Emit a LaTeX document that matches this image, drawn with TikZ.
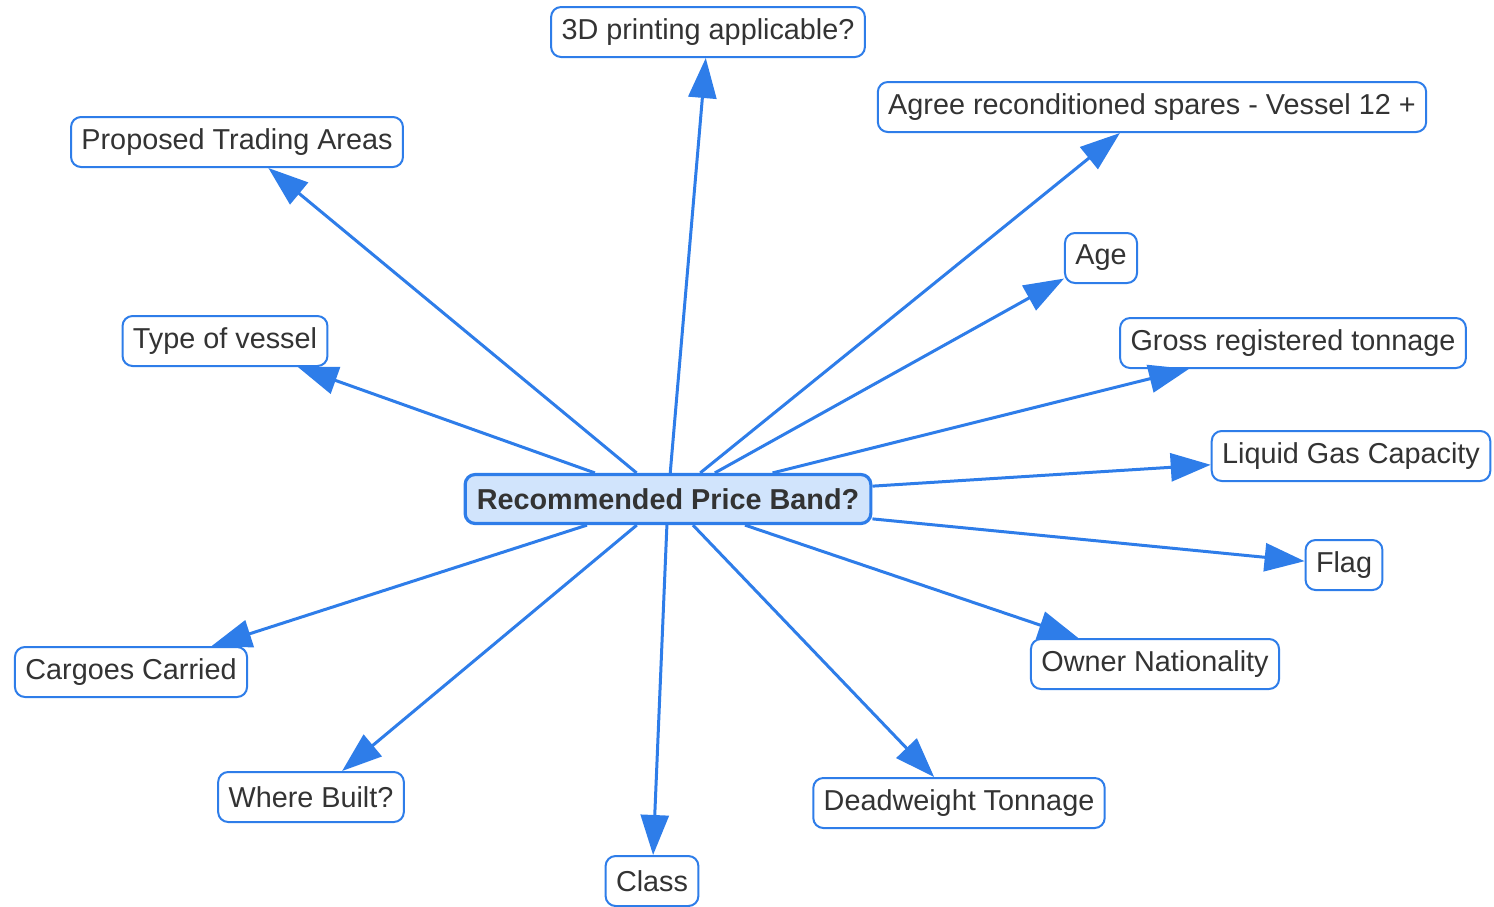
\documentclass[tikz,border=0pt]{standalone}
\usepackage{fontspec}
\setmainfont{Liberation Sans}
\usetikzlibrary{arrows.meta}

\definecolor{edgeblue}{RGB}{46,125,233}
\definecolor{hubfill}{RGB}{209,228,252}
\definecolor{labelgrey}{RGB}{51,51,51}

\begin{document}
\begin{tikzpicture}[x=0.5pt, y=-0.5pt,
	leaf/.style={draw=edgeblue, line width=1pt, fill=white, rounded corners=5pt, text=labelgrey, font=\fontsize{14.4}{17}\selectfont, minimum height=25pt, inner xsep=5.2pt},
	hub/.style={draw=edgeblue, line width=1.6pt, fill=hubfill, rounded corners=5pt, text=labelgrey, font=\fontsize{14.4}{17}\selectfont\bfseries, minimum height=24.5pt, inner xsep=5.8pt},
	link/.style={draw=edgeblue, line width=1.5pt, -{Triangle[length=20pt, width=14pt]}}]
	\useasboundingbox (0,0) rectangle (1494,906);
	\draw (668,499) node[hub](band) {Recommended Price Band?};
	\draw (708,32) node[leaf](print) {3D printing applicable?};
	\draw (1152,107) node[leaf](spares) {Agree reconditioned spares - Vessel 12 +};
	\draw (237,142) node[leaf](areas) {Proposed Trading Areas};
	\draw (1101,258) node[leaf](age) {Age};
	\draw (225,341) node[leaf](type) {Type of vessel};
	\draw (1293,343) node[leaf](grt) {Gross registered tonnage};
	\draw (1351,456) node[leaf](gas) {Liquid Gas Capacity};
	\draw (1344,565) node[leaf](flag) {Flag};
	\draw (131,672) node[leaf](cargo) {Cargoes Carried};
	\draw (1155,664) node[leaf](owner) {Owner Nationality};
	\draw (311,797) node[leaf](built) {Where Built?};
	\draw (959,803) node[leaf](dwt) {Deadweight Tonnage};
	\draw (652,881) node[leaf](class) {Class};
	% spokes out of the hub
	\draw[link] (band) -- (print);
	\draw[link] (band) -- (spares);
	\draw[link] (band) -- (areas);
	\draw[link] (band) -- (age);
	\draw[link] (band) -- (type);
	\draw[link] (band) -- (grt);
	\draw[link] (band) -- (gas);
	\draw[link] (band) -- (flag);
	\draw[link] (band) -- (cargo);
	\draw[link] (band) -- (owner);
	\draw[link] (band) -- (built);
	\draw[link] (band) -- (dwt);
	\draw[link] (band) -- (class);
\end{tikzpicture}
\end{document}
